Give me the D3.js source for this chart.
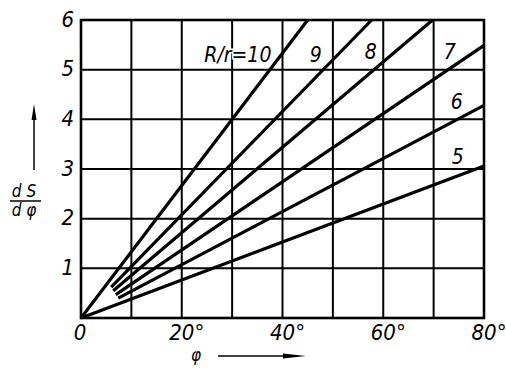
<!DOCTYPE html>
<html>
<head>
<meta charset="utf-8">
<script src="https://cdn.jsdelivr.net/npm/d3@7/dist/d3.min.js"></script>
<style>
  body { margin: 0; background: #fff; }
  svg text { font-family: "DejaVu Sans", sans-serif; font-stretch: condensed; font-style: italic; fill: #000; }
</style>
</head>
<body>
<script>
// R/r ratio of every curve
let ratios = ['R/r=10', '9', '8', '7', '6', '5'];
// start and end points of each line (phi in degrees, dS/dphi)
let startPhi = [0, 6, 6.4, 6.9, 7.4, 0];
let startVal = [0, 0.62, 0.55, 0.47, 0.40, 0];
let endPhi = [45, 57.7, 69.8, 80, 80, 80];
let endVal = [6, 6, 6, 5.49, 4.28, 3.06];

let xTicks = [0, 20, 40, 60, 80];
let xTickLabels = ['0', '20°', '40°', '60°', '80°'];
let yTicks = [1, 2, 3, 4, 5, 6];

let width = 506, height = 370;

const x = d3.scaleLinear().domain([0, 80]).range([81, 484]);
const y = d3.scaleLinear().domain([0, 6]).range([318, 20]);

const svg = d3.select('body')
  .append('svg')
  .attr('width', width)
  .attr('height', height)
  .attr('xmlns', 'http://www.w3.org/2000/svg');

// grid
const grid = svg.append('g').attr('stroke', '#000').attr('stroke-width', 2);
grid.selectAll('.vg')
  .data(d3.range(10, 80, 10))
  .enter()
  .append('line')
  .attr('x1', d => x(d)).attr('x2', d => x(d))
  .attr('y1', y(0)).attr('y2', y(6));
grid.selectAll('.hg')
  .data(d3.range(1, 6))
  .enter()
  .append('line')
  .attr('x1', x(0)).attr('x2', x(80))
  .attr('y1', d => y(d)).attr('y2', d => y(d));

svg.append('rect')
  .attr('x', x(0)).attr('y', y(6))
  .attr('width', x(80) - x(0)).attr('height', y(0) - y(6))
  .attr('fill', 'none').attr('stroke', '#000').attr('stroke-width', 2.6);

// curves
const lines = ratios.map((r, i) => ({
  label: r,
  pts: [[startPhi[i], startVal[i]], [endPhi[i], endVal[i]]]
}));
const line = d3.line().x(d => x(d[0])).y(d => y(d[1]));
svg.append('g').selectAll('path')
  .data(lines)
  .enter()
  .append('path')
  .attr('d', d => line(d.pts))
  .attr('fill', 'none')
  .attr('stroke', '#000')
  .attr('stroke-width', 3.2)
  .attr('stroke-linecap', 'butt');

// curve labels
let labelPhi = [37.8, 46.6, 57.5, 73.2, 74.6, 74.8];
let labelVal = [5.3, 5.29, 5.35, 5.35, 4.35, 3.24];
svg.append('g').selectAll('text')
  .data(lines)
  .enter()
  .append('text')
  .attr('x', (d, i) => x(labelPhi[i]))
  .attr('y', (d, i) => y(labelVal[i]))
  .attr('text-anchor', (d, i) => i === 0 ? 'end' : 'middle')
  .attr('dominant-baseline', 'central')
  .attr('font-size', 21)
  .attr('stroke', '#fff')
  .attr('stroke-width', 3)
  .attr('paint-order', 'stroke')
  .text(d => d.label);

// y tick labels
svg.append('g').selectAll('text')
  .data(yTicks)
  .enter()
  .append('text')
  .attr('x', 74)
  .attr('y', d => y(d) - 1)
  .attr('text-anchor', 'end')
  .attr('dominant-baseline', 'central')
  .attr('font-size', 22)
  .text(d => d);

// x tick labels
svg.append('g').selectAll('text')
  .data(xTicks)
  .enter()
  .append('text')
  .attr('x', (d, i) => x(d) + (i === 0 ? -1 : 5))
  .attr('y', 340)
  .attr('text-anchor', 'middle')
  .attr('font-size', 22)
  .text((d, i) => xTickLabels[i]);

// phi axis title with arrow
svg.append('text')
  .attr('x', 196).attr('y', 361)
  .attr('text-anchor', 'middle')
  .attr('font-size', 17)
  .text('φ');
svg.append('line')
  .attr('x1', 218).attr('x2', 290)
  .attr('y1', 356).attr('y2', 356)
  .attr('stroke', '#000').attr('stroke-width', 1.5);
svg.append('path')
  .attr('d', 'M283,353.5 L306,356 L283,358.5 Z')
  .attr('fill', '#000');

// dS/dphi axis title with arrow
svg.append('text')
  .attr('x', 24).attr('y', 197)
  .attr('text-anchor', 'middle')
  .attr('font-size', 17)
  .text('d S');
svg.append('line')
  .attr('x1', 10).attr('x2', 41)
  .attr('y1', 201).attr('y2', 201)
  .attr('stroke', '#000').attr('stroke-width', 1.5);
svg.append('text')
  .attr('x', 24).attr('y', 216)
  .attr('text-anchor', 'middle')
  .attr('font-size', 17)
  .text('d φ');
svg.append('line')
  .attr('x1', 34).attr('x2', 34)
  .attr('y1', 170).attr('y2', 116)
  .attr('stroke', '#000').attr('stroke-width', 1.5);
svg.append('path')
  .attr('d', 'M31.5,120 L34,104 L36.5,120 Z')
  .attr('fill', '#000');
</script>
</body>
</html>
